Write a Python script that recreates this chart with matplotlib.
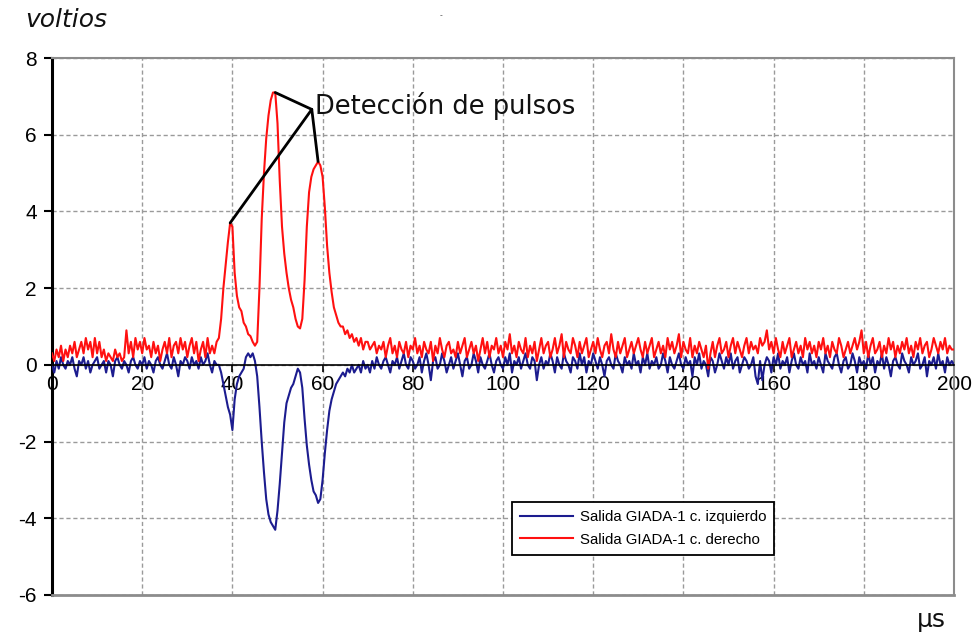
import numpy as np
import matplotlib
matplotlib.use("Agg")
import matplotlib.pyplot as plt

# ---------------- data ----------------
t_step = 0.5  # microseconds between samples
time_us = np.arange(0, 200.0 + t_step / 2, t_step)

derecho = [
    0.3,0.1,0.4,0.2,0.5,0.1,0.4,0.2,0.5,0.3,0.6,0.2,0.4,0.6,0.3,0.7,0.4,0.6,0.2,0.7,
    0.3,0.6,0.2,0.4,0.1,0.3,0.2,0.1,0.4,0.2,0.3,0.1,0.2,0.9,0.3,0.6,0.2,0.7,0.4,0.6,
    0.3,0.7,0.4,0.5,0.2,0.6,0.3,0.5,0.1,0.4,0.6,0.3,0.7,0.2,0.5,0.6,0.3,0.7,0.4,0.6,
    0.2,0.5,0.7,0.3,0.6,0.1,0.4,0.6,0.2,0.7,0.3,0.5,0.3,0.6,0.7,1.2,2.0,2.6,3.2,3.7,
    3.6,2.4,1.8,1.5,1.4,1.1,1.0,0.8,0.75,0.6,0.5,0.6,2.0,3.8,5.0,5.9,6.5,6.9,7.1,7.1,
    6.3,4.8,3.6,2.9,2.4,2.0,1.7,1.5,1.2,1.0,0.95,1.2,2.2,3.6,4.5,4.9,5.1,5.2,5.3,5.2,
    4.9,4.1,3.1,2.4,1.9,1.5,1.3,1.1,1.0,1.0,0.8,0.9,0.7,0.8,0.6,0.7,0.5,0.7,0.4,0.6,
    0.6,0.4,0.5,0.6,0.3,0.5,0.4,0.6,0.2,0.5,0.7,0.3,0.5,0.2,0.6,0.4,0.3,0.6,0.2,0.5,
    0.4,0.7,0.3,0.5,0.2,0.6,0.4,0.3,0.6,0.1,0.5,0.3,0.7,0.4,0.2,0.5,0.6,0.3,0.4,0.2,
    0.6,0.3,0.5,0.7,0.2,0.4,0.6,0.3,0.5,0.1,0.4,0.7,0.3,0.6,0.2,0.5,0.4,0.7,0.3,0.5,
    0.2,0.6,0.4,0.8,0.3,0.5,0.2,0.6,0.4,0.3,0.7,0.2,0.5,0.3,0.6,0.1,0.4,0.7,0.3,0.5,
    0.6,0.2,0.4,0.7,0.3,0.5,0.8,0.2,0.6,0.4,0.3,0.7,0.5,0.2,0.6,0.3,0.5,0.7,0.2,0.4,
    0.6,0.3,0.7,0.4,0.2,0.5,0.6,0.3,0.8,0.4,0.2,0.6,0.3,0.5,0.7,0.2,0.4,0.6,0.3,0.5,
    0.7,0.4,0.2,0.6,0.3,0.5,0.7,0.2,0.4,0.6,0.3,0.5,0.2,0.7,0.4,0.6,0.3,0.5,0.8,0.2,
    0.6,0.4,0.3,0.7,0.2,0.5,0.3,0.6,0.4,0.2,0.5,-0.1,0.3,0.6,0.2,0.5,0.7,0.3,0.4,0.6,
    0.2,0.5,0.7,0.3,0.6,0.4,0.2,0.5,0.7,0.3,0.6,0.4,0.5,0.3,0.7,0.5,0.6,0.9,0.4,0.6,
    0.3,0.7,0.4,0.2,0.6,0.3,0.5,0.7,0.2,0.4,0.6,0.3,0.5,0.2,0.7,0.4,0.6,0.3,0.5,0.2,
    0.6,0.4,0.7,0.3,0.5,0.2,0.6,0.4,0.3,0.7,0.5,0.2,0.4,0.6,0.3,0.5,0.7,0.4,0.6,0.9,
    0.3,0.6,0.2,0.5,0.7,0.3,0.4,0.6,0.2,0.5,0.3,0.7,0.4,0.6,0.2,0.5,0.3,0.6,0.4,0.7,
    0.3,0.5,0.2,0.6,0.4,0.7,0.3,0.5,0.6,0.2,0.4,0.7,0.5,0.3,0.6,0.4,0.7,0.3,0.5,0.4,
    0.4,
]

izquierdo = [
    0.0,-0.2,0.1,-0.1,0.2,0.0,-0.1,0.1,0.0,0.2,-0.1,-0.3,0.1,0.0,0.2,-0.1,0.1,-0.2,0.0,0.1,
    0.2,-0.1,0.0,0.1,-0.2,0.1,0.0,-0.3,0.1,0.2,0.0,-0.1,0.1,0.0,-0.2,0.1,0.2,0.0,-0.1,0.1,
    0.0,0.2,-0.1,0.1,0.0,-0.2,0.1,0.2,0.0,-0.1,0.1,0.3,0.0,-0.1,0.2,0.0,-0.3,0.1,0.0,0.2,
    0.1,-0.1,0.2,0.0,0.1,-0.1,0.2,0.0,0.1,0.3,0.0,-0.2,0.1,0.0,0.0,-0.2,-0.5,-0.8,-1.1,-1.3,
    -1.7,-0.9,-0.5,-0.3,-0.2,-0.1,0.2,0.3,0.2,0.3,0.1,-0.3,-1.1,-2.0,-2.8,-3.5,-3.9,-4.1,-4.2,-4.3,
    -3.8,-3.1,-2.3,-1.5,-1.0,-0.8,-0.6,-0.5,-0.3,-0.1,-0.2,-0.6,-1.4,-2.1,-2.6,-3.0,-3.3,-3.4,-3.6,-3.5,
    -3.0,-2.3,-1.7,-1.2,-0.9,-0.7,-0.5,-0.4,-0.3,-0.2,-0.3,-0.1,-0.2,0.0,-0.2,-0.1,0.0,-0.2,0.1,-0.1,
    0.0,-0.2,0.1,-0.1,0.2,0.0,-0.1,0.1,0.2,0.0,-0.2,0.1,0.0,0.2,-0.1,0.1,0.3,0.0,-0.1,0.2,
    0.1,-0.1,0.0,0.2,-0.2,0.1,0.3,0.0,-0.4,0.1,0.2,-0.1,0.0,0.3,0.1,-0.2,0.0,0.2,-0.1,0.1,
    0.3,0.0,-0.3,0.1,0.2,-0.1,0.0,0.3,0.1,-0.2,0.2,0.0,-0.1,0.1,0.3,0.0,-0.2,0.1,0.2,0.0,
    -0.1,0.2,0.0,0.3,-0.2,0.1,0.0,0.2,-0.1,0.1,0.3,0.0,-0.1,0.2,0.1,-0.4,0.0,0.2,-0.1,0.1,
    0.0,0.3,0.1,-0.2,0.2,0.0,-0.1,0.3,0.1,0.0,-0.2,0.2,0.1,-0.1,0.3,0.0,0.2,-0.2,0.1,0.0,
    0.3,0.1,-0.1,0.2,0.0,-0.3,0.1,0.2,0.0,-0.1,0.3,0.1,0.0,-0.2,0.2,0.0,0.1,-0.1,0.3,0.0,
    0.1,-0.2,0.2,0.0,0.3,-0.1,0.1,0.0,0.2,-0.1,0.0,0.3,0.1,-0.2,0.2,0.0,-0.1,0.1,0.3,0.0,
    -0.1,0.2,0.0,0.1,-0.3,0.2,0.0,0.3,-0.1,0.1,0.0,-0.3,0.2,0.1,-0.2,0.0,0.3,0.1,-0.1,0.2,
    0.0,0.3,-0.1,0.1,0.2,-0.2,0.0,0.2,0.1,-0.1,0.0,0.2,-0.3,-0.5,0.1,-0.4,0.0,0.2,0.1,-0.2,
    0.2,0.0,0.3,-0.1,0.1,0.0,0.2,-0.2,0.1,0.3,0.0,-0.1,0.2,0.0,0.1,-0.2,0.3,0.0,0.1,-0.1,
    0.2,0.0,-0.2,0.3,0.1,0.0,-0.1,0.2,0.3,0.0,-0.2,0.1,0.2,-0.1,0.0,0.3,0.1,-0.2,0.2,0.0,
    0.1,-0.1,0.3,0.0,0.2,-0.2,0.1,0.0,0.3,-0.1,0.2,0.0,-0.3,0.1,0.2,0.0,-0.1,0.3,0.1,0.0,
    -0.2,0.2,0.0,0.1,0.3,-0.1,0.0,0.2,-0.3,0.1,0.0,0.2,-0.1,0.3,0.0,0.1,-0.2,0.2,0.0,0.1,
    0.0,
]

series_labels = ["Salida GIADA-1 c. izquierdo", "Salida GIADA-1 c. derecho"]
pulse_times = [39.5, 49.5, 59.0]     # detected pulses on the right channel
x_ticks = [0, 20, 40, 60, 80, 100, 120, 140, 160, 180, 200]
y_ticks = [-6, -4, -2, 0, 2, 4, 6, 8]
y_label = "voltios"
x_label = "\u03bcs"
annotation_text = "Detecci\u00f3n de pulsos"

# ---------------- figure ----------------
plt.rcParams["font.family"] = ["Liberation Sans", "DejaVu Sans"]
fig = plt.figure(figsize=(9.74, 6.33), dpi=100)
W, H = 974, 633
ax = fig.add_axes([52 / W, (H - 595) / H, (954 - 52) / W, (595 - 58) / H])

ax.plot(time_us, izquierdo, color="#1c1c8f", lw=1.5,
        label=series_labels[0], zorder=3)
ax.plot(time_us, derecho, color="#ff1010", lw=1.5,
        label=series_labels[1], zorder=3)

ax.set_xlim(0, 200)
ax.set_ylim(-6, 8)
ax.set_xticks(x_ticks)
ax.set_yticks(y_ticks)
ax.set_xticklabels([str(v) for v in x_ticks])
ax.set_yticklabels([str(v) for v in y_ticks])

# grid
ax.grid(True, color="#9a9a9a", linestyle=(0, (3, 2)), lw=1.0, zorder=0)

# spines
ax.spines["bottom"].set_position(("data", 0))
ax.spines["bottom"].set_color("black")
ax.spines["bottom"].set_linewidth(1.2)
ax.spines["bottom"].set_zorder(4)
ax.spines["left"].set_color("black")
ax.spines["left"].set_linewidth(2.2)
for s in ("top", "right"):
    ax.spines[s].set_color("#8c8c8c")
    ax.spines[s].set_linewidth(1.5)
ax.axhline(-6, color="#8c8c8c", lw=2.0, clip_on=False, zorder=5)

ax.tick_params(axis="x", direction="out", length=5, width=1.2, pad=2,
               colors="black", labelsize=15)
ax.tick_params(axis="y", direction="out", length=6, width=1.5, pad=5,
               colors="black", labelsize=15)

# legend
leg = ax.legend(loc="upper left", bbox_to_anchor=(0.51, 0.173), borderaxespad=0,
                prop=dict(family="Liberation Sans", size=10.8),
                handlelength=3.5, handletextpad=0.45, borderpad=0.55,
                labelspacing=0.55, frameon=True, fancybox=False)
leg.get_frame().set_edgecolor("black")
leg.get_frame().set_linewidth(1.3)
leg.get_frame().set_facecolor("white")
leg.get_frame().set_alpha(1)
for h in leg.get_lines():
    h.set_linewidth(1.5)

# annotation lines from the text to the detected pulses
vertex = (57.6, 6.66)
for pt in pulse_times:
    idx = int(round(pt / t_step))
    ax.annotate("", xy=(time_us[idx], derecho[idx]), xytext=vertex,
                arrowprops=dict(arrowstyle="-", color="black", lw=2.0,
                                shrinkA=0, shrinkB=0), zorder=6)
ax.text(58.4, 6.75, annotation_text, fontsize=18.5, family="DejaVu Sans",
        va="center", ha="left", color="#111111", zorder=6)

# axis labels
fig.text(66 / W, 1 - 20 / H, y_label, fontsize=18, style="italic",
         family="DejaVu Sans", ha="center", va="center", color="#111111")
fig.text(931 / W, 1 - 620 / H, x_label, fontsize=18, family="DejaVu Sans",
         ha="center", va="center", color="#111111")
fig.text(441 / W, 1 - 16 / H, "-", fontsize=6, ha="center", va="center", color="#333333")

fig.savefig("out.png", dpi=100)
